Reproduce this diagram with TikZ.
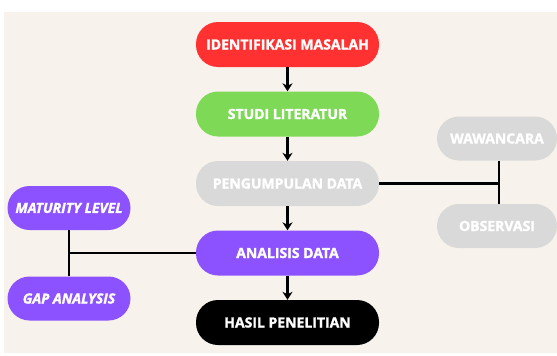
\documentclass[tikz,border=0pt]{standalone}
\usepackage{fontspec}
\setmainfont{Open Sans}[BoldFeatures={FakeBold=1.6}, BoldItalicFeatures={FakeBold=1.6}]
\usetikzlibrary{arrows.meta}
\definecolor{bg}{HTML}{F7F3EC}
\definecolor{cred}{HTML}{FF3131}
\definecolor{cgreen}{HTML}{7ED957}
\definecolor{cgray}{HTML}{D9D9D9}
\definecolor{cpurple}{HTML}{8C52FF}
\tikzset{
  pill/.style={rounded corners=22pt, minimum width=183pt, minimum height=45pt, inner sep=0pt, text=white, font=\fontsize{14}{16}\selectfont\bfseries},
  sidepill/.style={pill, minimum width=123pt, minimum height=44pt},
  conn/.style={line width=2.6pt, black},
  arr/.style={conn, -{Stealth[length=8pt,width=10pt,inset=2.5pt]}}
}
\begin{document}
\begin{tikzpicture}[x=1pt,y=-1pt]
\useasboundingbox (0,0) rectangle (557,356);
\fill[white] (0,0) rectangle (557,356);
\fill[bg] (4,12) rectangle (557,353);
\node[pill, fill=cred] (im) at (287.5,44.5) {IDENTIFIKASI MASALAH};
\node[pill, fill=cgreen] (sl) at (287.5,114) {STUDI LITERATUR};
\node[pill, fill=cgray] (pd) at (287.5,183.5) {PENGUMPULAN DATA};
\node[pill, fill=cpurple] (ad) at (287.5,253) {ANALISIS DATA};
\node[pill, fill=black] (hp) at (287.5,322.5) {HASIL PENELITIAN};
\node[sidepill, fill=cgray, minimum width=120pt] (ww) at (497,138.5) {WAWANCARA};
\node[sidepill, fill=cgray, minimum width=120pt] (ob) at (497,226) {OBSERVASI};
\node[sidepill, fill=cpurple, font=\fontsize{14}{16}\selectfont\bfseries\itshape] (ml) at (69,208) {MATURITY LEVEL};
\node[sidepill, fill=cpurple, font=\fontsize{14}{16}\selectfont\bfseries\itshape] (ga) at (69,298.5) {GAP ANALYSIS};
\draw[arr] (im) -- (sl);
\draw[arr] (sl) -- (pd);
\draw[arr] (pd) -- (ad);
\draw[arr] (ad) -- (hp);
\coordinate (jr) at (499,183.5);
\draw[conn] (pd.east) -- (jr);
\draw[conn] (499,161) -- (499,204);
\coordinate (jl) at (69,253);
\draw[conn] (ml.south) -- (ga.north);
\draw[conn] (jl) -- (ad.west);
\end{tikzpicture}
\end{document}
